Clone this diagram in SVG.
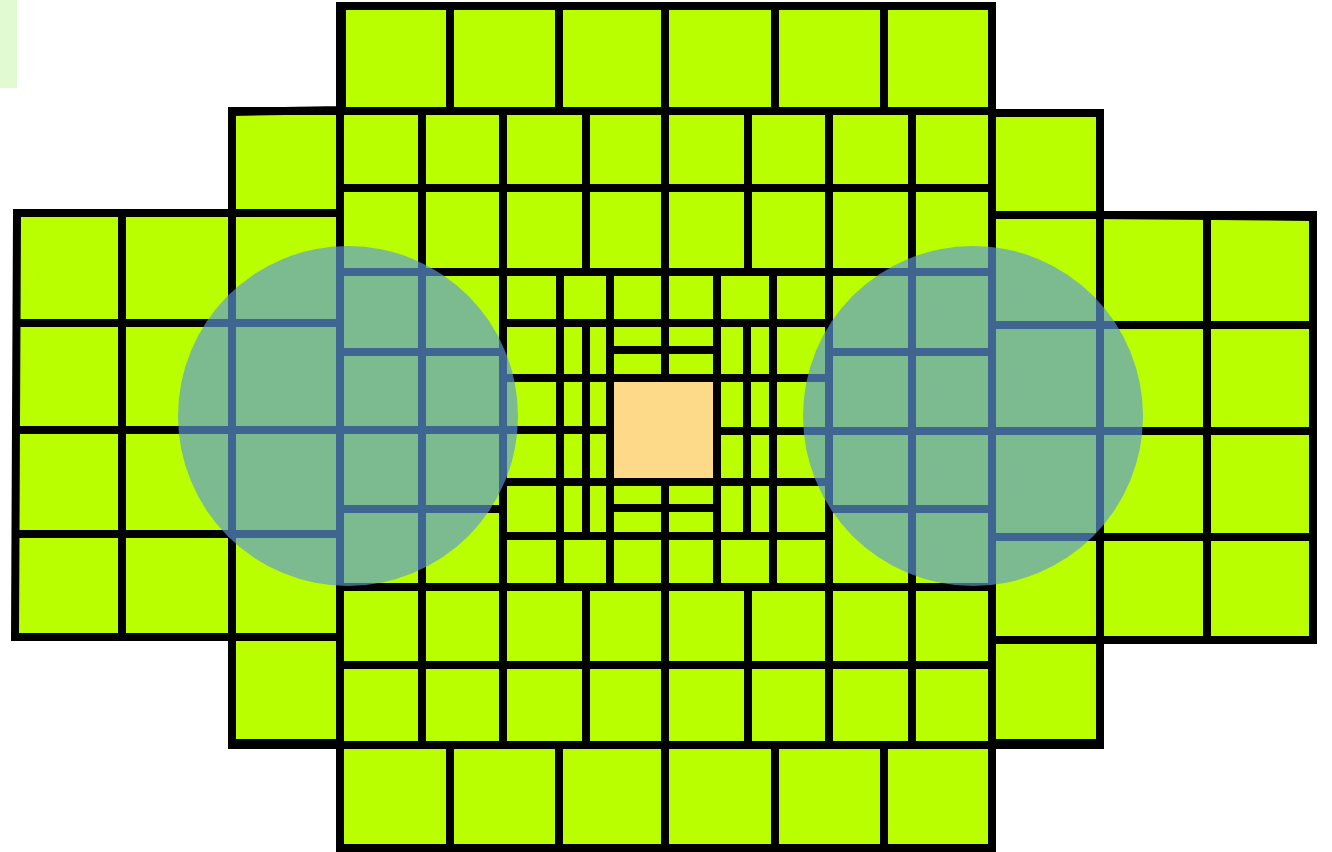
<svg xmlns="http://www.w3.org/2000/svg" width="1332" height="852" viewBox="0 0 1332 852">
<style>
.g{fill:#B9FF00;stroke:none}
.l{stroke:#000;stroke-width:8;stroke-linecap:square;fill:none}
.c{fill:#5E98D7;fill-opacity:0.67;stroke:none}
</style>
<rect x="0" y="0" width="17" height="88" fill="#E1FAD2"/>
<g id="floor">
<polygon class="g" points="342,6 992,6 992,113 1100,113 1100,215 1313,217 1313,640 1100,640 1100,743 992,743 992,848 340,848 340,743 232,743 232,637 15,637 17,213 232,213 232,112 342,110"/>
<rect id="core" x="612" y="381" width="103" height="99" fill="#FDD98A"/>
</g>
<g id="grid" class="l">
<polygon points="342,6 992,6 992,113 1100,113 1100,215 1313,217 1313,640 1100,640 1100,743 992,743 992,848 340,848 340,743 232,743 232,637 15,637 17,213 232,213 232,112 342,110"/>
<path d="M232,111H992M340,188H992M17,213H340M992,215H1313M340,272H992M17,323H340M503,323H829M992,325H1313M340,352H503M829,352H992M610,350H713M503,378H829M17,430H610M717,431H1313M503,482H829M340,509H503M829,509H992M610,508H717M17,534H340M503,536H829M992,537H1313M340,587H992M17,637H340M992,640H1100M340,665H992M232,745H1100"/>
<path d="M122,213V637M232,112V742M340,6V848M422,113V745M450,6V110M450,745V848M503,113V745M559,6V110M559,745V848M560,273V587M586,113V271M586,323V536M586,587V745M610,273V587M665,6V373M665,482V848M717,273V587M748,118V266M747,323V536M748,587V745M773,273V587M775,6V104M775,745V848M829,113V745M884,6V110M884,745V848M912,113V745M992,6V848M1100,113V743M1207,217V640"/>
</g>
<g id="zones">
<circle id="zone-left" class="c" cx="348" cy="416" r="170"/>
<circle id="zone-right" class="c" cx="973" cy="416" r="170"/>
</g>
</svg>
